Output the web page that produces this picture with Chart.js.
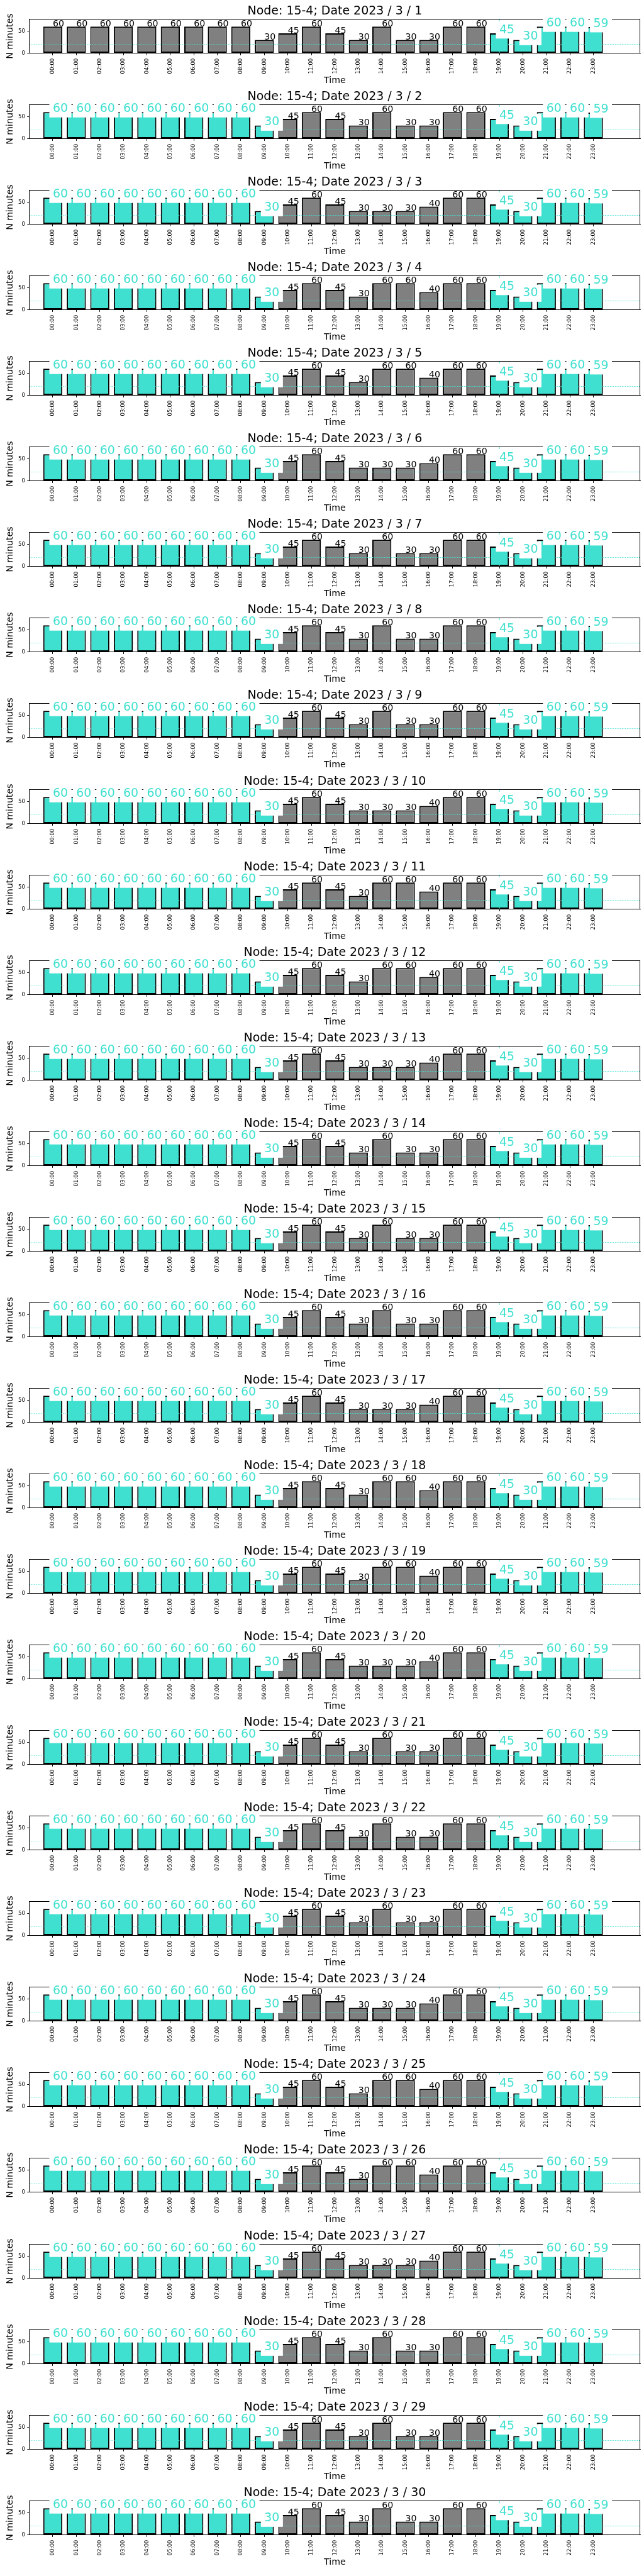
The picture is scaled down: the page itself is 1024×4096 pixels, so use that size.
<!DOCTYPE html>
<html>
<head>
<meta charset="utf-8">
<script src="https://cdn.jsdelivr.net/npm/chart.js@4.4.1/dist/chart.umd.min.js"></script>
<style>
  html, body { margin: 0; padding: 0; background: #ffffff; }
  #wrap { position: relative; width: 1024px; height: 4096px; overflow: hidden; background: #ffffff; }
  .panel { position: absolute; left: 0; width: 1024px; height: 137px; }
  canvas { display: block; }
</style>
</head>
<body>
<div id="wrap"></div>
<script>
// ---------------- data ----------------
const nodeName = '15-4';
const yearNumber = 2023;
const monthNumber = 3;
const dayNumbers = [1,2,3,4,5,6,7,8,9,10,11,12,13,14,15,16,17,18,19,20,21,22,23,24,25,26,27,28,29,30];
const hourLabels = ['00:00','01:00','02:00','03:00','04:00','05:00','06:00','07:00','08:00','09:00','10:00','11:00',
                    '12:00','13:00','14:00','15:00','16:00','17:00','18:00','19:00','20:00','21:00','22:00','23:00'];
const yTickValues = [0, 50];
const referenceLevel = 20;
const markerHour = 19;
const cyanHoursFirstDay = [19, 20, 21, 22, 23];
const cyanHoursOtherDays = [0, 1, 2, 3, 4, 5, 6, 7, 8, 9, 19, 20, 21, 22, 23];

const minutes_03_01 = [60,60,60,60,60,60,60,60,60,30,45,60,45,30,60,30,30,60,60,45,30,60,60,59];
const minutes_03_02 = [60,60,60,60,60,60,60,60,60,30,45,60,45,30,60,30,30,60,60,45,30,60,60,59];
const minutes_03_03 = [60,60,60,60,60,60,60,60,60,30,45,60,45,30,30,30,40,60,60,45,30,60,60,59];
const minutes_03_04 = [60,60,60,60,60,60,60,60,60,30,45,60,45,30,60,60,40,60,60,45,30,60,60,59];
const minutes_03_05 = [60,60,60,60,60,60,60,60,60,30,45,60,45,30,60,60,40,60,60,45,30,60,60,59];
const minutes_03_06 = [60,60,60,60,60,60,60,60,60,30,45,60,45,30,30,30,40,60,60,45,30,60,60,59];
const minutes_03_07 = [60,60,60,60,60,60,60,60,60,30,45,60,45,30,60,30,30,60,60,45,30,60,60,59];
const minutes_03_08 = [60,60,60,60,60,60,60,60,60,30,45,60,45,30,60,30,30,60,60,45,30,60,60,59];
const minutes_03_09 = [60,60,60,60,60,60,60,60,60,30,45,60,45,30,60,30,30,60,60,45,30,60,60,59];
const minutes_03_10 = [60,60,60,60,60,60,60,60,60,30,45,60,45,30,30,30,40,60,60,45,30,60,60,59];
const minutes_03_11 = [60,60,60,60,60,60,60,60,60,30,45,60,45,30,60,60,40,60,60,45,30,60,60,59];
const minutes_03_12 = [60,60,60,60,60,60,60,60,60,30,45,60,45,30,60,60,40,60,60,45,30,60,60,59];
const minutes_03_13 = [60,60,60,60,60,60,60,60,60,30,45,60,45,30,30,30,40,60,60,45,30,60,60,59];
const minutes_03_14 = [60,60,60,60,60,60,60,60,60,30,45,60,45,30,60,30,30,60,60,45,30,60,60,59];
const minutes_03_15 = [60,60,60,60,60,60,60,60,60,30,45,60,45,30,60,30,30,60,60,45,30,60,60,59];
const minutes_03_16 = [60,60,60,60,60,60,60,60,60,30,45,60,45,30,60,30,30,60,60,45,30,60,60,59];
const minutes_03_17 = [60,60,60,60,60,60,60,60,60,30,45,60,45,30,30,30,40,60,60,45,30,60,60,59];
const minutes_03_18 = [60,60,60,60,60,60,60,60,60,30,45,60,45,30,60,60,40,60,60,45,30,60,60,59];
const minutes_03_19 = [60,60,60,60,60,60,60,60,60,30,45,60,45,30,60,60,40,60,60,45,30,60,60,59];
const minutes_03_20 = [60,60,60,60,60,60,60,60,60,30,45,60,45,30,30,30,40,60,60,45,30,60,60,59];
const minutes_03_21 = [60,60,60,60,60,60,60,60,60,30,45,60,45,30,60,30,30,60,60,45,30,60,60,59];
const minutes_03_22 = [60,60,60,60,60,60,60,60,60,30,45,60,45,30,60,30,30,60,60,45,30,60,60,59];
const minutes_03_23 = [60,60,60,60,60,60,60,60,60,30,45,60,45,30,60,30,30,60,60,45,30,60,60,59];
const minutes_03_24 = [60,60,60,60,60,60,60,60,60,30,45,60,45,30,30,30,40,60,60,45,30,60,60,59];
const minutes_03_25 = [60,60,60,60,60,60,60,60,60,30,45,60,45,30,60,60,40,60,60,45,30,60,60,59];
const minutes_03_26 = [60,60,60,60,60,60,60,60,60,30,45,60,45,30,60,60,40,60,60,45,30,60,60,59];
const minutes_03_27 = [60,60,60,60,60,60,60,60,60,30,45,60,45,30,30,30,40,60,60,45,30,60,60,59];
const minutes_03_28 = [60,60,60,60,60,60,60,60,60,30,45,60,45,30,60,30,30,60,60,45,30,60,60,59];
const minutes_03_29 = [60,60,60,60,60,60,60,60,60,30,45,60,45,30,60,30,30,60,60,45,30,60,60,59];
const minutes_03_30 = [60,60,60,60,60,60,60,60,60,30,45,60,45,30,60,30,30,60,60,45,30,60,60,59];

const dailyMinutes = [
  minutes_03_01, minutes_03_02, minutes_03_03, minutes_03_04, minutes_03_05, minutes_03_06,
  minutes_03_07, minutes_03_08, minutes_03_09, minutes_03_10, minutes_03_11, minutes_03_12,
  minutes_03_13, minutes_03_14, minutes_03_15, minutes_03_16, minutes_03_17, minutes_03_18,
  minutes_03_19, minutes_03_20, minutes_03_21, minutes_03_22, minutes_03_23, minutes_03_24,
  minutes_03_25, minutes_03_26, minutes_03_27, minutes_03_28, minutes_03_29, minutes_03_30
];

// ---------------- style / layout ----------------
const S = 0.682;                 // scale from the 1500x6000 reference
const FONT = 'DejaVu Sans';
const GREY = '#808080';
const CYAN = '#40E0D0';
const PANEL_PITCH = 199.5 * S;
const CANVAS_H = 137;
const AXES_TOP = 45 * S;
const AXES_BOTTOM = 124 * S;
const AXES_LEFT = 68.3 * S;
const AXES_RIGHT = 1493 * S;
const TITLE_SIZE = 27.8 * S;
const LABEL_SIZE = 20.8 * S;
const TICK_SIZE = 12.6 * S;
const BLACK_VAL_SIZE = 20.8 * S;
const CYAN_VAL_SIZE = 27.8 * S;
const BOX_PAD_X = 8 * S;
const BOX_UP = 27.6 * S;
const BOX_DOWN = 12.3 * S;

Chart.defaults.font.family = FONT;
Chart.defaults.color = '#000';

const decorPlugin = {
  id: 'panelDecor',
  afterDatasetsDraw(chart) {
    const {ctx, chartArea: a} = chart;
    const x = chart.scales.x, y = chart.scales.y;
    const opts = chart.options.plugins.panelDecor;
    const values = opts.values;
    const cyanSet = new Set(opts.cyanHours);
    ctx.save();
    // dotted reference line
    ctx.strokeStyle = CYAN;
    ctx.lineWidth = 1.2;
    ctx.setLineDash([1.1, 1.6]);
    const yr = y.getPixelForValue(referenceLevel);
    ctx.beginPath(); ctx.moveTo(a.left, yr); ctx.lineTo(a.right, yr); ctx.stroke();
    ctx.setLineDash([]);
    // vertical marker
    const xm = x.getPixelForValue(markerHour);
    ctx.lineWidth = 1.1;
    ctx.beginPath(); ctx.moveTo(xm, a.top); ctx.lineTo(xm, a.bottom); ctx.stroke();
    // spines
    ctx.strokeStyle = '#000';
    ctx.lineWidth = 1;
    const l = Math.round(a.left) - 0.5, r = Math.round(a.right) - 0.5;
    const t = Math.round(a.top) - 0.5, b = Math.round(a.bottom) - 0.5;
    ctx.strokeRect(l, t, r - l, b - t);
    // value labels
    const boxes = [];
    ctx.textAlign = 'left';
    ctx.textBaseline = 'alphabetic';
    values.forEach((v, i) => {
      const px = x.getPixelForValue(i);
      const py = y.getPixelForValue(v);
      const s = String(v);
      if (cyanSet.has(i)) {
        ctx.font = `${CYAN_VAL_SIZE}px "${FONT}"`;
        const w = ctx.measureText(s).width;
        const bx = px - BOX_PAD_X, by = py - BOX_UP, bw = w + 2 * BOX_PAD_X, bh = BOX_UP + BOX_DOWN;
        ctx.fillStyle = '#ffffff';
        ctx.fillRect(bx, by, bw, bh);
        boxes.push([bx, by, bw, bh]);
        ctx.fillStyle = CYAN;
        ctx.fillText(s, px, py);
      } else {
        ctx.font = `${BLACK_VAL_SIZE}px "${FONT}"`;
        ctx.fillStyle = '#000';
        ctx.fillText(s, px, py);
      }
    });
    chart.$labelBoxes = boxes;
    ctx.restore();
  },
  afterDraw(chart) {
    const tb = chart.titleBlock;
    const boxes = chart.$labelBoxes || [];
    if (!tb || !boxes.length) return;
    const ctx = chart.ctx;
    ctx.save();
    ctx.beginPath();
    boxes.forEach(([bx, by, bw, bh]) => ctx.rect(bx, by, bw, bh));
    ctx.clip();
    tb.draw();
    ctx.restore();
  }
};

const wrap = document.getElementById('wrap');

dailyMinutes.forEach((values, k) => {
  const day = dayNumbers[k];
  const cyanHours = k === 0 ? cyanHoursFirstDay : cyanHoursOtherDays;
  const cyanSet = new Set(cyanHours);
  const div = document.createElement('div');
  div.className = 'panel';
  div.style.top = Math.round(k * PANEL_PITCH) + 'px';
  const canvas = document.createElement('canvas');
  canvas.width = 1024; canvas.height = CANVAS_H;
  canvas.style.width = '1024px'; canvas.style.height = CANVAS_H + 'px';
  div.appendChild(canvas);
  wrap.appendChild(div);

  const titleLine = TITLE_SIZE * 1.2;
  const titleBaseline = 36.7 * S;
  const titleMiddle = titleBaseline - 0.346 * TITLE_SIZE;
  const titlePadTop = titleMiddle - titleLine / 2;
  const titlePadBottom = AXES_TOP - titleLine - titlePadTop;

  const labelLine = LABEL_SIZE * 1.2;
  const yTitleCenter = 23.3 * S;
  const xTitleMiddle = 195 * S - 0.346 * LABEL_SIZE;

  new Chart(canvas, {
    type: 'bar',
    data: {
      datasets: [{
        data: values.map((v, i) => ({x: i, y: v})),
        backgroundColor: values.map((v, i) => cyanSet.has(i) ? CYAN : GREY),
        borderColor: '#000000',
        borderWidth: 2,
        borderSkipped: false,
        barPercentage: 0.812,
        categoryPercentage: 1
      }]
    },
    options: {
      responsive: false,
      animation: false,
      devicePixelRatio: 1,
      events: [],
      layout: { padding: { left: 0, right: 1024 - AXES_RIGHT, top: 0, bottom: 0 } },
      plugins: {
        legend: { display: false },
        tooltip: { enabled: false },
        title: {
          display: true,
          fullSize: false,
          text: `Node: ${nodeName}; Date ${yearNumber} / ${monthNumber} / ${day}`,
          color: '#000',
          font: { family: FONT, size: TITLE_SIZE, weight: 'normal', lineHeight: 1.2 },
          padding: { top: titlePadTop, bottom: titlePadBottom }
        },
        panelDecor: { values: values, cyanHours: cyanHours }
      },
      scales: {
        x: {
          type: 'linear',
          min: -1, max: 25,
          offset: false,
          afterBuildTicks: (s) => { s.ticks = hourLabels.map((_, i) => ({ value: i })); },
          afterFit: (s) => { s.height = CANVAS_H - AXES_BOTTOM; },
          ticks: {
            autoSkip: false, minRotation: 90, maxRotation: 90,
            padding: 4.8, color: '#000',
            font: { family: FONT, size: TICK_SIZE },
            callback: (v) => hourLabels[v]
          },
          grid: { display: true, offset: false, drawOnChartArea: false, drawTicks: true, tickLength: 3.3, color: '#000', lineWidth: 1 },
          border: { display: true, color: '#000', width: 1 },
          title: {
            display: true, text: 'Time', color: '#000',
            font: { family: FONT, size: LABEL_SIZE, lineHeight: 1.2 },
            padding: { top: 0, bottom: CANVAS_H - xTitleMiddle - labelLine / 2 }
          }
        },
        y: {
          min: 0, max: 76.5,
          afterBuildTicks: (s) => { s.ticks = yTickValues.map((v) => ({ value: v })); },
          afterFit: (s) => { s.width = AXES_LEFT; },
          ticks: { padding: 3.4, color: '#000', font: { family: FONT, size: 12.5 * S } },
          grid: { display: true, drawOnChartArea: false, drawTicks: true, tickLength: 3.3, color: '#000', lineWidth: 1 },
          border: { display: true, color: '#000', width: 1 },
          title: {
            display: true, text: 'N minutes', color: '#000',
            font: { family: FONT, size: LABEL_SIZE, lineHeight: 1.2 },
            padding: { top: yTitleCenter - labelLine / 2, bottom: 0 }
          }
        }
      }
    },
    plugins: [decorPlugin]
  });
});
</script>
</body>
</html>
